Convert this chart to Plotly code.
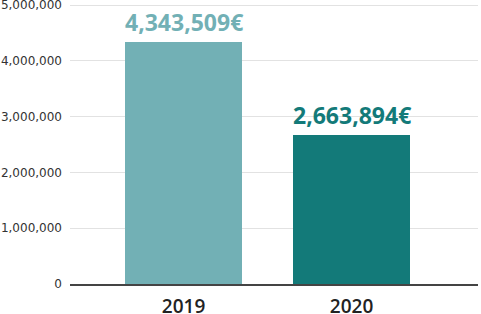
import plotly.graph_objects as go

years = ["2019", "2020"]
values = [4343509, 2663894]
labels = ["4,343,509€", "2,663,894€"]
colors = ["#72b0b5", "#137a79"]
y_ticks = [0, 1000000, 2000000, 3000000, 4000000, 5000000]

fig = go.Figure()
fig.add_trace(go.Bar(
    x=[0, 1], y=values, marker=dict(color=colors, line=dict(width=0)),
    width=0.696, hoverinfo="skip",
))

for i, (v, t, c) in enumerate(zip(values, labels, colors)):
    fig.add_annotation(
        x=i, y=v, text=t, showarrow=False, xanchor="center", yanchor="bottom",
        yshift=2, font=dict(family="Open Sans", size=23, color=c, weight=700),
    )

fig.update_layout(
    width=481, height=314,
    margin=dict(l=70, r=3, t=2, b=30),
    paper_bgcolor="white", plot_bgcolor="white",
    showlegend=False,
    bargap=0,
)
fig.update_xaxes(
    range=[-0.676, 1.753], automargin=False,
    tickmode="array", tickvals=[0, 1], ticktext=years,
    tickfont=dict(family="Open Sans", size=19, color="#222", weight=600),
    showgrid=False, showline=True, linecolor="#444", linewidth=1.5,
    ticks="", zeroline=False, ticklabelstandoff=4,
)
fig.update_yaxes(
    range=[0, 5053800], automargin=False,
    tickmode="array", tickvals=y_ticks, ticktext=[f"{v:,}" for v in y_ticks],
    tickfont=dict(family="DejaVu Sans", size=12, color="#333"),
    showgrid=True, gridcolor="#e2e2e2", gridwidth=1,
    zeroline=False, showline=False, ticks="", ticklabelstandoff=7,
    ticklabeloverflow="allow",
)

fig.write_html("out.html")
